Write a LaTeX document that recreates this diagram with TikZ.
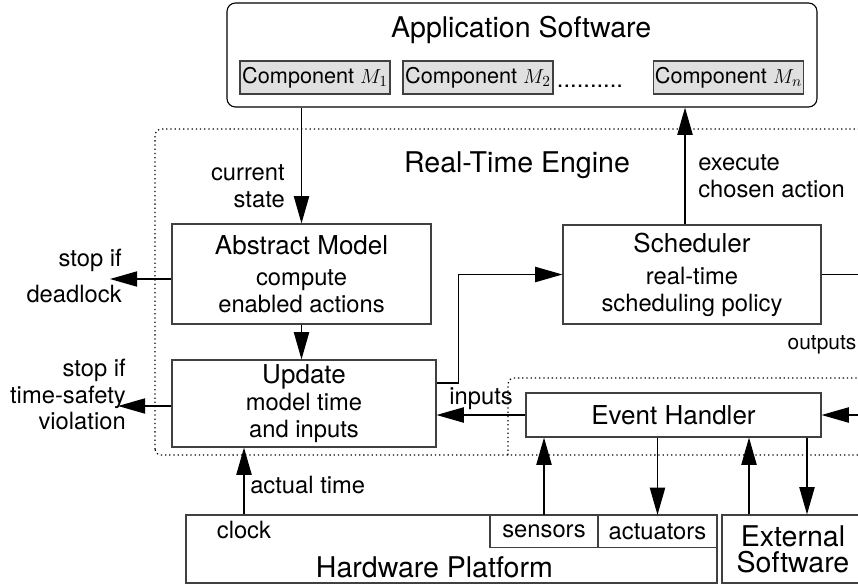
\documentclass[tikz,border=0pt]{standalone}
\usepackage{fontspec}
\setmainfont{TeX Gyre Heros}
\usetikzlibrary{arrows.meta}
\newcommand{\szbig}{\fontsize{20.3}{18.5}\selectfont}
\newcommand{\sztitle}{\fontsize{18.5}{20.6}\selectfont}
\newcommand{\sznormal}{\fontsize{16.9}{19}\selectfont}
\newcommand{\szsmall}{\fontsize{14.9}{17}\selectfont}

\begin{document}
\begin{tikzpicture}[
  box/.style={draw=black!75, line width=0.8pt, rectangle, inner sep=0pt, align=center},
  comp/.style={box, fill=black!12, minimum width=3.75cm, minimum height=0.825cm, font=\fontsize{15.4}{17}\selectfont},
  engine/.style={dash pattern=on 0.9pt off 2.1pt, line width=0.9pt, rounded corners=4pt},
  arr/.style={line width=1pt, -{Triangle[length=0.68cm,width=0.38cm]}},
  lbl/.style={font=\sznormal, inner sep=0pt}
]
\useasboundingbox (0,0) rectangle (21.45,14.65);
%application software
\node[box, draw=black, rounded corners=6pt, minimum width=14.75cm, minimum height=2.6cm] (app) at (13.05,13.275) {};
\node[font=\szbig] (apptitle) at (13.03,13.9) {Application Software};
\node[comp] (m1) at (7.875,12.7125) {Component $M_1$};
\node[comp] (m2) at (11.95,12.7125) {Component $M_2$};
\node[font=\sznormal, anchor=base] (dots) at (14.75,12.45) {..........};
\node[comp] (mn) at (18.2125,12.7125) {Component $M_n$};
%real-time engine, dotted
\draw[engine] (3.875,3.275) rectangle (22.5,11.425);
\draw[engine] (12.7,3.275) |- (22.5,5.2);
\node[font=\szbig] (rte) at (12.925,10.525) {Real-Time Engine};
%engine boxes
\node[box, font=\sznormal, minimum width=6.475cm, minimum height=2.5cm] (abstract) at (7.5375,7.8) {\sztitle Abstract Model\\[3pt]\sznormal compute\\\sznormal enabled actions};
\node[box, font=\sznormal, minimum width=6.6cm, minimum height=2.175cm] (update) at (7.6,4.5625) {\sztitle Update\\\sznormal model time\\\sznormal and inputs};
\node[box, font=\sznormal, minimum width=6.45cm, minimum height=2.475cm] (sched) at (17.3,7.7875) {\sztitle Scheduler\\[4pt]\sznormal real-time\\\sznormal scheduling policy};
\node[box, minimum width=7.375cm, minimum height=1.1cm, font=\sztitle] (handler) at (16.8375,4.275) {Event Handler};
%hardware and external software
\node[box, minimum width=13.275cm, minimum height=1.7cm] (hw) at (11.2875,0.925) {};
\node[font=\szbig] (hwlabel) at (10.86,0.475) {Hardware Platform};
\node[font=\sznormal] (clock) at (6.1,1.4) {clock};
\node[box, minimum width=2.7cm, minimum height=0.8cm, font=\sznormal] (sensors) at (13.6,1.3625) {sensors};
\node[box, minimum width=2.975cm, minimum height=0.8cm, font=\sznormal] (actuators) at (16.4375,1.3625) {actuators};
\node[box, minimum width=3.55cm, minimum height=1.7cm, font=\szbig] (ext) at (19.825,0.925) {External\\Software};
%current state
\draw[arr] (abstract.north |- app.south) -- (abstract.north);
\node[lbl, align=right, anchor=east] (cur) at (7.125,10.0) {current\\state};
%execute chosen action
\coordinate (exe) at (17.125,0);
\draw[arr] (exe |- sched.north) -- (exe |- app.south);
\node[lbl, align=left, anchor=west] (exec) at (17.45,10.2375) {execute\\chosen action};
%abstract model to update
\draw[arr] (abstract.south) -- (abstract.south |- update.north);
%stop arrows
\coordinate (dl) at (2.75,7.675);
\draw[arr] (abstract.west |- dl) -- (dl);
\node[lbl, align=right, anchor=east] (stop1) at (3.05,7.75) {stop if\\[7pt]deadlock};
\coordinate (ts) at (2.95,4.5);
\draw[arr] (update.west |- ts) -- (ts);
\node[lbl, align=right, anchor=east] (stop2) at (3.15,4.7875) {stop if\\time-safety\\violation};
%update to scheduler
\draw[arr] ([yshift=0.5125cm]update.east) -- ++(0.55,0) |- (sched.west);
%inputs and outputs
\draw[arr] (handler.west) -- (update.east |- handler.west) node[midway, above, font=\sznormal] (inp) {inputs};
\draw[line width=1pt] (sched.east) -- ++(2,0);
\node[font=\szsmall] (outp) at (20.55,6.025) {outputs};
\coordinate (edge) at (22.5,0);
\draw[arr] (edge |- handler.east) -- (handler.east);
%actual time
\draw[arr] (clock.north |- hw.north) -- (clock.north |- update.south);
\node[lbl, anchor=west] (act) at (6.25,2.525) {actual time};
%sensors and actuators
\draw[arr] (sensors.north) -- (sensors.north |- handler.south);
\draw[arr] (actuators.north |- handler.south) -- (actuators.north);
%external software
\coordinate (exup) at (18.725,0);
\coordinate (exdn) at (20.175,0);
\draw[arr] (exup |- ext.north) -- (exup |- handler.south);
\draw[arr] (exdn |- handler.south) -- (exdn |- ext.north);
\end{tikzpicture}
\end{document}
